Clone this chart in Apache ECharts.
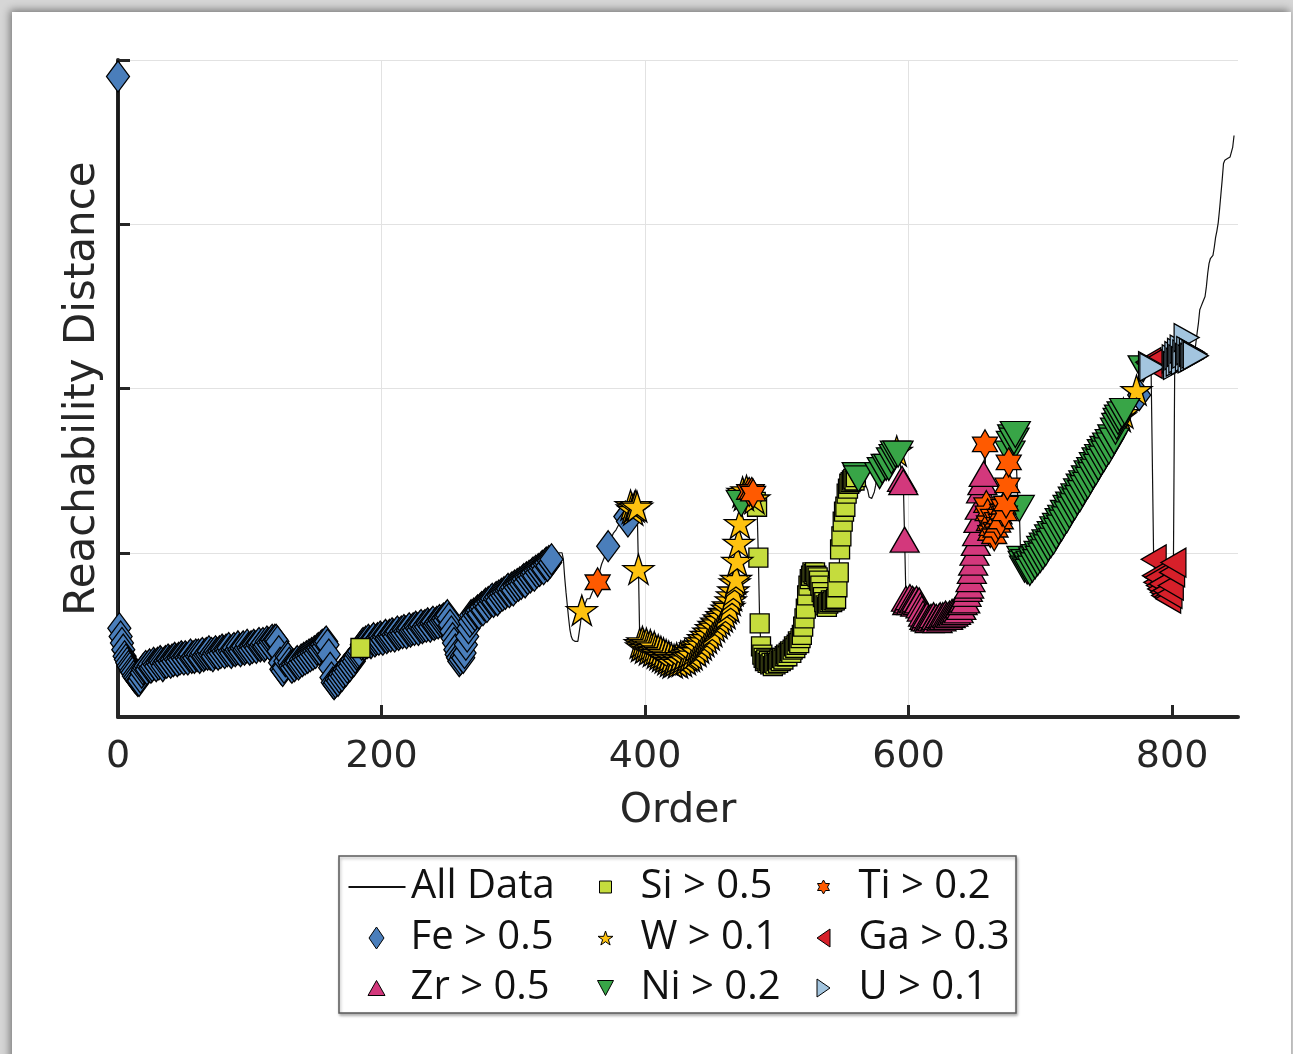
<!DOCTYPE html>
<html>
<head>
<meta charset="utf-8">
<script src="https://cdn.jsdelivr.net/npm/echarts@6/dist/echarts.min.js"></script>
<style>
  html, body { margin: 0; padding: 0; width: 1293px; height: 1054px; overflow: hidden; background: #d6d6d6; }
  #card { position: absolute; left: 12px; top: 12px; width: 1279px; height: 1100px; background: #fff;
          box-shadow: -2px -2px 8px rgba(0,0,0,0.45); }
  #chart { position: absolute; left: 0; top: 0; width: 1293px; height: 1054px; }
</style>
</head>
<body>
<div id="card"></div>
<div id="chart"></div>
<script>
// OPTICS reachability distance, one value per point in cluster order (0..847)
const reachability = [
  3.90,0.54,0.49,0.45,0.41,0.37,0.35,0.33,0.31,0.30,0.28,0.27,0.25,0.24,0.23,0.22,0.22,0.24,0.27,0.29,
  0.30,0.31,0.29,0.31,0.32,0.30,0.31,0.33,0.32,0.31,0.33,0.32,0.34,0.33,0.31,0.33,0.34,0.33,0.35,0.34,
  0.33,0.35,0.34,0.36,0.35,0.34,0.36,0.35,0.37,0.36,0.35,0.37,0.36,0.35,0.37,0.38,0.36,0.37,0.36,0.38,
  0.37,0.38,0.36,0.38,0.39,0.37,0.38,0.39,0.38,0.40,0.38,0.39,0.37,0.39,0.40,0.39,0.38,0.40,0.39,0.41,
  0.40,0.39,0.41,0.40,0.42,0.40,0.39,0.41,0.42,0.40,0.41,0.43,0.41,0.40,0.42,0.43,0.41,0.42,0.44,0.42,
  0.41,0.43,0.42,0.44,0.43,0.42,0.44,0.45,0.43,0.44,0.45,0.43,0.44,0.46,0.45,0.44,0.46,0.47,0.46,0.47,
  0.47,0.46,0.40,0.33,0.29,0.28,0.30,0.34,0.37,0.36,0.33,0.31,0.30,0.32,0.31,0.33,0.34,0.32,0.33,0.35,
  0.34,0.36,0.35,0.37,0.36,0.38,0.37,0.39,0.38,0.40,0.39,0.41,0.42,0.41,0.43,0.44,0.43,0.45,0.46,0.44,
  0.38,0.30,0.24,0.21,0.20,0.21,0.23,0.22,0.24,0.26,0.25,0.27,0.29,0.28,0.30,0.32,0.31,0.33,0.35,0.34,
  0.36,0.38,0.39,0.40,0.42,0.44,0.45,0.44,0.46,0.45,0.47,0.46,0.45,0.47,0.48,0.46,0.47,0.48,0.47,0.49,
  0.48,0.47,0.49,0.50,0.48,0.49,0.50,0.49,0.51,0.50,0.49,0.51,0.52,0.50,0.51,0.52,0.51,0.53,0.52,0.51,
  0.53,0.54,0.52,0.53,0.54,0.53,0.55,0.54,0.53,0.55,0.56,0.54,0.55,0.56,0.55,0.57,0.56,0.55,0.57,0.58,
  0.56,0.57,0.58,0.57,0.59,0.58,0.59,0.60,0.59,0.61,0.62,0.60,0.56,0.52,0.48,0.45,0.41,0.38,0.36,0.34,
  0.35,0.37,0.36,0.39,0.44,0.49,0.54,0.58,0.62,0.60,0.63,0.62,0.64,0.65,0.63,0.66,0.67,0.65,0.68,0.69,
  0.67,0.70,0.69,0.71,0.72,0.70,0.72,0.73,0.71,0.74,0.73,0.75,0.74,0.76,0.75,0.77,0.78,0.76,0.78,0.79,
  0.77,0.80,0.79,0.81,0.80,0.82,0.81,0.83,0.84,0.82,0.85,0.84,0.86,0.85,0.87,0.88,0.86,0.89,0.88,0.90,
  0.89,0.91,0.92,0.90,0.93,0.94,0.92,0.95,0.94,0.96,0.97,0.98,0.97,0.99,0.98,1.00,1.01,1.00,0.96,0.85,
  0.76,0.68,0.60,0.53,0.49,0.47,0.47,0.46,0.45,0.46,0.47,0.57,0.65,0.66,0.68,0.70,0.72,0.73,0.72,0.74,
  0.76,0.77,0.79,0.80,0.82,0.86,0.90,0.93,0.95,0.97,0.99,1.01,1.04,1.06,1.08,1.10,1.12,1.13,1.14,1.15,
  1.17,1.16,1.18,1.19,1.20,1.22,1.20,1.19,1.24,1.29,1.27,1.26,1.28,1.29,1.28,0.90,0.45,0.43,0.46,0.44,
  0.42,0.45,0.43,0.41,0.44,0.42,0.40,0.43,0.41,0.39,0.41,0.38,0.40,0.37,0.39,0.36,0.38,0.35,0.37,0.34,
  0.36,0.33,0.35,0.34,0.36,0.33,0.35,0.37,0.34,0.36,0.38,0.35,0.37,0.39,0.37,0.40,0.38,0.41,0.43,0.40,
  0.44,0.42,0.46,0.44,0.48,0.46,0.50,0.48,0.52,0.50,0.54,0.52,0.56,0.55,0.58,0.57,0.60,0.59,0.62,0.61,
  0.64,0.63,0.66,0.68,0.67,0.71,0.74,0.77,0.82,0.84,0.95,1.06,1.18,1.30,1.37,1.35,1.36,1.38,1.36,1.37,
  1.38,1.37,1.36,1.33,1.31,1.28,0.97,0.57,0.43,0.38,0.36,0.34,0.35,0.33,0.34,0.32,0.33,0.31,0.33,0.32,
  0.34,0.33,0.35,0.34,0.36,0.35,0.37,0.38,0.37,0.39,0.40,0.39,0.41,0.43,0.42,0.44,0.46,0.45,0.48,0.50,
  0.55,0.60,0.66,0.74,0.80,0.84,0.86,0.88,0.87,0.88,0.86,0.85,0.83,0.80,0.76,0.73,0.70,0.68,0.67,0.69,
  0.70,0.71,0.70,0.71,0.71,0.72,0.79,0.88,1.02,1.10,1.19,1.25,1.28,1.36,1.39,1.42,1.43,1.44,1.45,1.44,
  1.46,1.47,1.45,1.44,1.42,1.41,1.40,1.42,1.41,1.38,1.34,1.33,1.33,1.33,1.37,1.41,1.46,1.48,1.47,1.49,
  1.50,1.48,1.50,1.52,1.53,1.52,1.55,1.56,1.57,1.58,1.60,1.62,1.60,1.58,1.52,1.45,1.43,1.08,0.72,0.70,
  0.71,0.73,0.70,0.72,0.71,0.69,0.72,0.70,0.71,0.68,0.66,0.63,0.61,0.60,0.62,0.60,0.59,0.61,0.60,0.62,
  0.60,0.61,0.59,0.61,0.62,0.60,0.62,0.61,0.63,0.62,0.61,0.63,0.62,0.64,0.63,0.65,0.64,0.66,0.65,0.68,
  0.67,0.70,0.72,0.71,0.75,0.78,0.80,0.84,0.89,0.94,1.00,1.06,1.12,1.20,1.28,1.38,1.43,1.48,1.66,1.29,
  1.24,1.18,1.12,1.15,1.22,1.10,1.14,1.20,1.17,1.22,1.19,1.25,1.28,1.24,1.30,1.41,1.55,1.60,1.66,1.70,
  1.68,1.72,1.50,1.30,1.27,1.00,0.96,0.93,0.90,0.94,0.89,0.92,0.88,0.93,0.90,0.95,0.92,0.97,0.94,0.99,
  0.96,1.02,0.98,1.04,1.00,1.06,1.03,1.09,1.05,1.11,1.07,1.14,1.10,1.16,1.13,1.19,1.15,1.21,1.18,1.24,
  1.20,1.27,1.23,1.29,1.26,1.32,1.28,1.34,1.31,1.37,1.33,1.40,1.36,1.42,1.39,1.45,1.41,1.48,1.44,1.50,
  1.47,1.53,1.49,1.56,1.52,1.58,1.55,1.61,1.57,1.63,1.60,1.65,1.62,1.67,1.65,1.70,1.68,1.74,1.77,1.80,
  1.82,1.83,1.84,1.85,1.86,1.88,1.90,1.91,1.93,1.94,1.95,1.96,1.97,1.99,1.97,1.96,2.03,2.08,2.12,2.13,
  2.14,2.15,2.16,2.15,2.14,2.13,0.96,0.86,0.82,0.85,0.80,0.78,0.81,0.76,0.74,0.77,0.73,0.72,0.75,0.80,
  0.88,0.94,2.18,2.14,2.20,2.16,2.22,2.18,2.24,2.17,2.21,2.31,2.19,2.23,2.18,2.22,2.19,2.21,2.20,2.34,
  2.40,2.48,2.50,2.52,2.54,2.56,2.62,2.70,2.76,2.79,2.80,2.81,2.86,2.92,2.96,3.01,3.09,3.18,3.27,3.37,
  3.39,3.40,3.40,3.41,3.41,3.42,3.47,3.54
];

// Points whose composition exceeds each threshold (single orders or [from, to] runs)
const feOrders = [[0, 183], [185, 329], 372, 385, 387, 775];
const zrOrders = [[595, 657]];
const siOrders = [184, [484, 560]];
const wOrders  = [352, [389, 472], 474, 475, 477, 483, 591, 761, 763, 773];
const niOrders = [473, [561, 562], 578, 580, 583, 585, 587, 589, 590, 592, [677, 681], 684, [686, 760], 762, 764, 778];
const tiOrders = [364, 479, 481, 482, [658, 676]];
const gaOrders = [782, 783, [786, 801]];
const uOrders  = [784, 785, [802, 818]];

const xTicks = [0, 200, 400, 600, 800];

function expand(list) {
  const out = [];
  list.forEach(e => {
    if (Array.isArray(e)) { for (let i = e[0]; i <= e[1]; i++) out.push(i); }
    else out.push(e);
  });
  return out;
}
function points(list) { return expand(list).map(i => [i, reachability[i]]); }

// marker outlines
const SYM = {
  diamond: 'path://M11,0L22,15L11,30L0,15Z',
  square: 'path://M0,0L10,0L10,10L0,10Z',
  up: 'path://M10,0L20,17L0,17Z',
  down: 'path://M0,0L20,0L10,17Z',
  left: 'path://M0,10L17,0L17,20Z',
  right: 'path://M0,0L17,10L0,20Z',
  star: 'path://M0,-10L2.245,-3.09L9.511,-3.09L3.633,1.18L5.878,8.09L0,3.82L-5.878,8.09L-3.633,1.18L-9.511,-3.09L-2.245,-3.09Z',
  hex: 'path://M0,-10L2.887,-5L8.66,-5L5.774,0L8.66,5L2.887,5L0,10L-2.887,5L-8.66,5L-5.774,0L-8.66,-5L-2.887,-5Z'
};

const FONT = 'DejaVu Sans';
const KEY_FONT = 'Open Sans';
const INK = '#262626';

// drawing order: later groups sit on top; icon = legend key size [w, h]
const groups = [
  { name: 'Fe > 0.5', orders: feOrders, color: '#4a7ebb', symbol: SYM.diamond, size: [23, 31], icon: [15, 22], col: 0, row: 1 },
  { name: 'Zr > 0.5', orders: zrOrders, color: '#d3387c', symbol: SYM.up,      size: [29, 25], icon: [17, 15], col: 0, row: 2 },
  { name: 'Si > 0.5', orders: siOrders, color: '#c5dc3d', symbol: SYM.square,  size: [19, 19], icon: [12, 12], col: 1, row: 0 },
  { name: 'W > 0.1',  orders: wOrders,  color: '#fec210', symbol: SYM.star,    size: [31, 30], icon: [15, 14], col: 1, row: 1 },
  { name: 'Ni > 0.2', orders: niOrders, color: '#38a547', symbol: SYM.down,    size: [30, 26], icon: [16, 15], col: 1, row: 2 },
  { name: 'Ti > 0.2', orders: tiOrders, color: '#ff5a00', symbol: SYM.hex,     size: [25, 29], icon: [12, 14], col: 2, row: 0 },
  { name: 'Ga > 0.3', orders: gaOrders, color: '#d6202a', symbol: SYM.left,    size: [25, 29], icon: [13, 18], col: 2, row: 1 },
  { name: 'U > 0.1',  orders: uOrders,  color: '#a3c5df', symbol: SYM.right,   size: [25, 28], icon: [13, 18], col: 2, row: 2 }
];

const colIcon = [376, 605, 823];   // key centre per legend column
const colText = [410, 640, 858];   // label start per legend column
const rowMid = [887, 938, 988];

function legendFor(name, col, row, w, h, extra) {
  const left = colIcon[col] - w / 2;
  const gap = colText[col] - (left + w + 5);
  return Object.assign({
    data: [name], orient: 'vertical', left: left, top: rowMid[row] - 22,
    itemWidth: w, itemHeight: h, padding: 0, selectedMode: false, symbolKeepAspect: false,
    textStyle: { fontSize: 40, fontFamily: KEY_FONT, color: '#111', lineHeight: 44, padding: [0, 0, 0, gap] }
  }, extra || {});
}

const series = [{
  name: 'All Data', type: 'line', symbol: 'none', silent: true, z: 1,
  data: reachability.map((v, i) => [i, v]),
  lineStyle: { color: '#111', width: 1.2 }, itemStyle: { color: '#111' }
}];
groups.forEach(g => series.push({
  name: g.name, type: 'scatter', silent: true, z: 2,
  symbol: g.symbol, symbolSize: g.size, symbolKeepAspect: false,
  data: points(g.orders),
  itemStyle: { color: g.color, borderColor: '#000', borderWidth: 1.3, opacity: 1 }
}));

const legends = [legendFor('All Data', 0, 0, 57, 2, { itemStyle: { opacity: 0 } })]
  .concat(groups.map(g => legendFor(g.name, g.col, g.row, g.icon[0], g.icon[1], { itemStyle: { borderWidth: 1 } })));

const chart = echarts.init(document.getElementById('chart'), null, { renderer: 'canvas' });
chart.setOption({
  animation: false,
  backgroundColor: 'transparent',
  textStyle: { fontFamily: FONT },
  grid: { left: 118, right: 55, top: 60, bottom: 337, containLabel: false, outerBoundsMode: 'none' },
  xAxis: {
    type: 'value', min: 0, max: 850, interval: 200,
    name: 'Order', nameLocation: 'middle', nameGap: 74,
    nameTextStyle: { fontSize: 41, fontFamily: FONT, color: INK },
    axisLine: { show: true, onZero: false, lineStyle: { color: INK, width: 4 } },
    axisTick: { show: true, inside: true, length: 12, customValues: xTicks, lineStyle: { color: INK, width: 3 } },
    axisLabel: { show: true, customValues: xTicks, margin: 21, fontSize: 38, fontFamily: FONT, color: INK },
    splitLine: { show: true, showMinLine: false, showMaxLine: false, lineStyle: { color: '#e2e2e2', width: 1 } }
  },
  yAxis: {
    type: 'value', min: 0, max: 4, interval: 1,
    name: 'Reachability Distance', nameLocation: 'middle', nameGap: 14,
    nameTextStyle: { fontSize: 42, fontFamily: FONT, color: INK },
    axisLine: { show: true, onZero: false, lineStyle: { color: INK, width: 4 } },
    axisTick: { show: true, inside: true, length: 12, lineStyle: { color: INK, width: 3 } },
    axisLabel: { show: false },
    splitLine: { show: true, showMinLine: false, lineStyle: { color: '#e2e2e2', width: 1 } }
  },
  legend: legends,
  graphic: [{
    type: 'rect', z: 0, silent: true,
    shape: { x: 339, y: 856, width: 677, height: 157 },
    style: { fill: '#fff', stroke: '#5a5a5a', lineWidth: 1.5,
             shadowBlur: 3, shadowColor: 'rgba(0,0,0,0.3)', shadowOffsetX: 1, shadowOffsetY: 2 }
  }],
  series: series
});
</script>
</body>
</html>
